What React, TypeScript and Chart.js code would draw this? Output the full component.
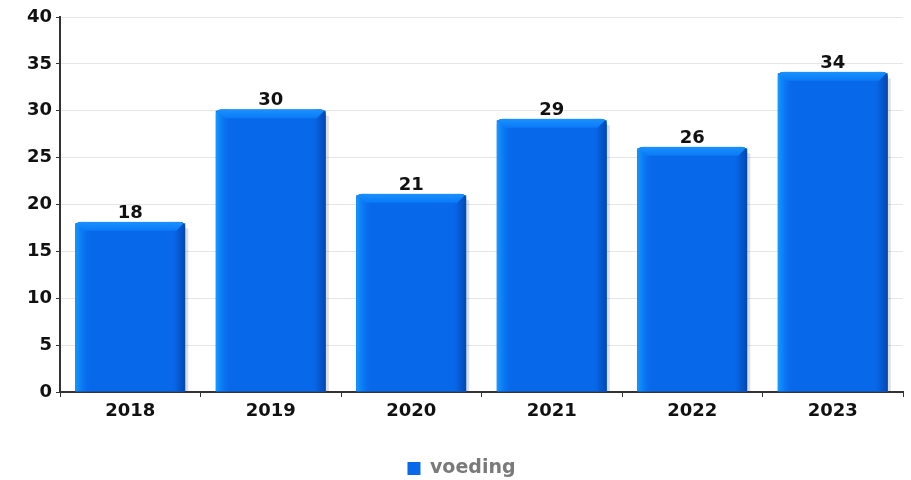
import React, { useEffect, useRef } from 'react';
import { Chart, registerables } from 'chart.js';

Chart.register(...registerables);

const years: string[] = ['2018', '2019', '2020', '2021', '2022', '2023'];
const voeding: number[] = [18, 30, 21, 29, 26, 34];
const seriesName = 'voeding';
const yMin = 0;
const yMax = 40;
const yStep = 5;

const FONT = '"DejaVu Sans", Verdana, sans-serif';
const MAIN = '#0868ea';

function topRoundPath(ctx: CanvasRenderingContext2D, l: number, t: number, r: number, b: number, rad: number) {
  ctx.beginPath();
  ctx.moveTo(l, b);
  ctx.lineTo(l, t + rad);
  ctx.quadraticCurveTo(l, t, l + rad, t);
  ctx.lineTo(r - rad, t);
  ctx.quadraticCurveTo(r, t, r, t + rad);
  ctx.lineTo(r, b);
  ctx.closePath();
}

const bevelPlugin = {
  id: 'bevel',
  beforeDatasetsDraw(chart: any) {
    const ctx: CanvasRenderingContext2D = chart.ctx;
    chart.getDatasetMeta(0).data.forEach((bar: any) => {
      const { x, y, base, width } = bar.getProps(['x', 'y', 'base', 'width'], true);
      const r = x + width / 2;
      ctx.save();
      ctx.fillStyle = 'rgba(0,0,0,0.13)';
      ctx.fillRect(r, y + 5, 3, base - y - 5);
      ctx.restore();
    });
  },
  afterDatasetsDraw(chart: any) {
    const ctx: CanvasRenderingContext2D = chart.ctx;
    chart.getDatasetMeta(0).data.forEach((bar: any, i: number) => {
      const { x, y, base, width } = bar.getProps(['x', 'y', 'base', 'width'], true);
      const l = x - width / 2;
      const r = x + width / 2;
      const t = y - 1.5;
      const b = base;
      const B = 9;
      ctx.save();
      topRoundPath(ctx, l, t, r, b, 6);
      ctx.clip();
      ctx.fillStyle = MAIN;
      ctx.fillRect(l, t, r - l, b - t);
      // left light strip
      const gl = ctx.createLinearGradient(l, 0, l + 16, 0);
      gl.addColorStop(0, '#129cff');
      gl.addColorStop(0.6, 'rgba(12,120,245,0.5)');
      gl.addColorStop(1, 'rgba(8,104,234,0)');
      ctx.fillStyle = gl;
      ctx.fillRect(l, t, 16, b - t);
      // right dark strip
      const gr = ctx.createLinearGradient(r - 14, 0, r, 0);
      gr.addColorStop(0, 'rgba(8,104,234,0)');
      gr.addColorStop(0.5, 'rgba(5,85,200,0.7)');
      gr.addColorStop(1, '#0346b0');
      ctx.fillStyle = gr;
      ctx.fillRect(r - 14, t, 14, b - t);
      // top bevel
      ctx.beginPath();
      ctx.moveTo(l, t);
      ctx.lineTo(r, t);
      ctx.lineTo(r - B, t + B);
      ctx.lineTo(l + B, t + B);
      ctx.closePath();
      const gt = ctx.createLinearGradient(0, t, 0, t + B);
      gt.addColorStop(0, '#1a92ff');
      gt.addColorStop(1, '#0b7af6');
      ctx.fillStyle = gt;
      ctx.fill();
      ctx.restore();

      // value label
      ctx.save();
      ctx.font = `bold 18px ${FONT}`;
      ctx.fillStyle = '#111';
      ctx.textAlign = 'center';
      ctx.textBaseline = 'alphabetic';
      ctx.fillText(String(voeding[i]), x, t - 4);
      ctx.restore();
    });
  },
};

export default function App() {
  const ref = useRef<HTMLCanvasElement | null>(null);
  useEffect(() => {
    document.body.style.margin = '0';
    const canvas = ref.current!;
    const chart = new Chart(canvas, {
      type: 'bar',
      data: {
        labels: years,
        datasets: [
          {
            label: seriesName,
            data: voeding,
            backgroundColor: MAIN,
            borderWidth: 0,
            categoryPercentage: 1,
            barPercentage: 0.783,
          },
        ],
      },
      options: {
        responsive: false,
        animation: false,
        devicePixelRatio: 1,
        layout: { padding: { left: 20, right: 8, top: 17, bottom: -8 } },
        plugins: {
          tooltip: { enabled: false },
          legend: {
            position: 'bottom',
            labels: {
              boxWidth: 13,
              boxHeight: 13,
              padding: 10,
              color: '#7a7a7a',
              font: { family: FONT, size: 19, weight: 'bold' },
            },
          },
        },
        scales: {
          x: {
            offset: true,
            afterFit: (s: any) => {
              s.height = 57;
            },
            grid: {
              display: true,
              offset: true,
              drawOnChartArea: false,
              tickLength: 5,
              color: '#333',
              lineWidth: 1,
            },
            border: { color: '#333', width: 2 },
            ticks: {
              color: '#111',
              padding: 4,
              font: { family: FONT, size: 18, weight: 'bold' },
            },
          },
          y: {
            min: yMin,
            max: yMax,
            afterFit: (s: any) => {
              s.width = 40;
            },
            grid: {
              color: '#e6e6e6',
              lineWidth: 1,
              tickLength: 4,
              tickColor: '#333',
            },
            border: { color: '#333', width: 2 },
            ticks: {
              stepSize: yStep,
              color: '#111',
              padding: 4,
              font: { family: FONT, size: 18, weight: 'bold' },
            },
          },
        },
      },
      plugins: [bevelPlugin],
    } as any);
    return () => chart.destroy();
  }, []);
  return (
    <div style={{ width: 911, height: 480 }}>
      <canvas ref={ref} width={911} height={480} style={{ display: 'block', width: 911, height: 480 }} />
    </div>
  );
}
